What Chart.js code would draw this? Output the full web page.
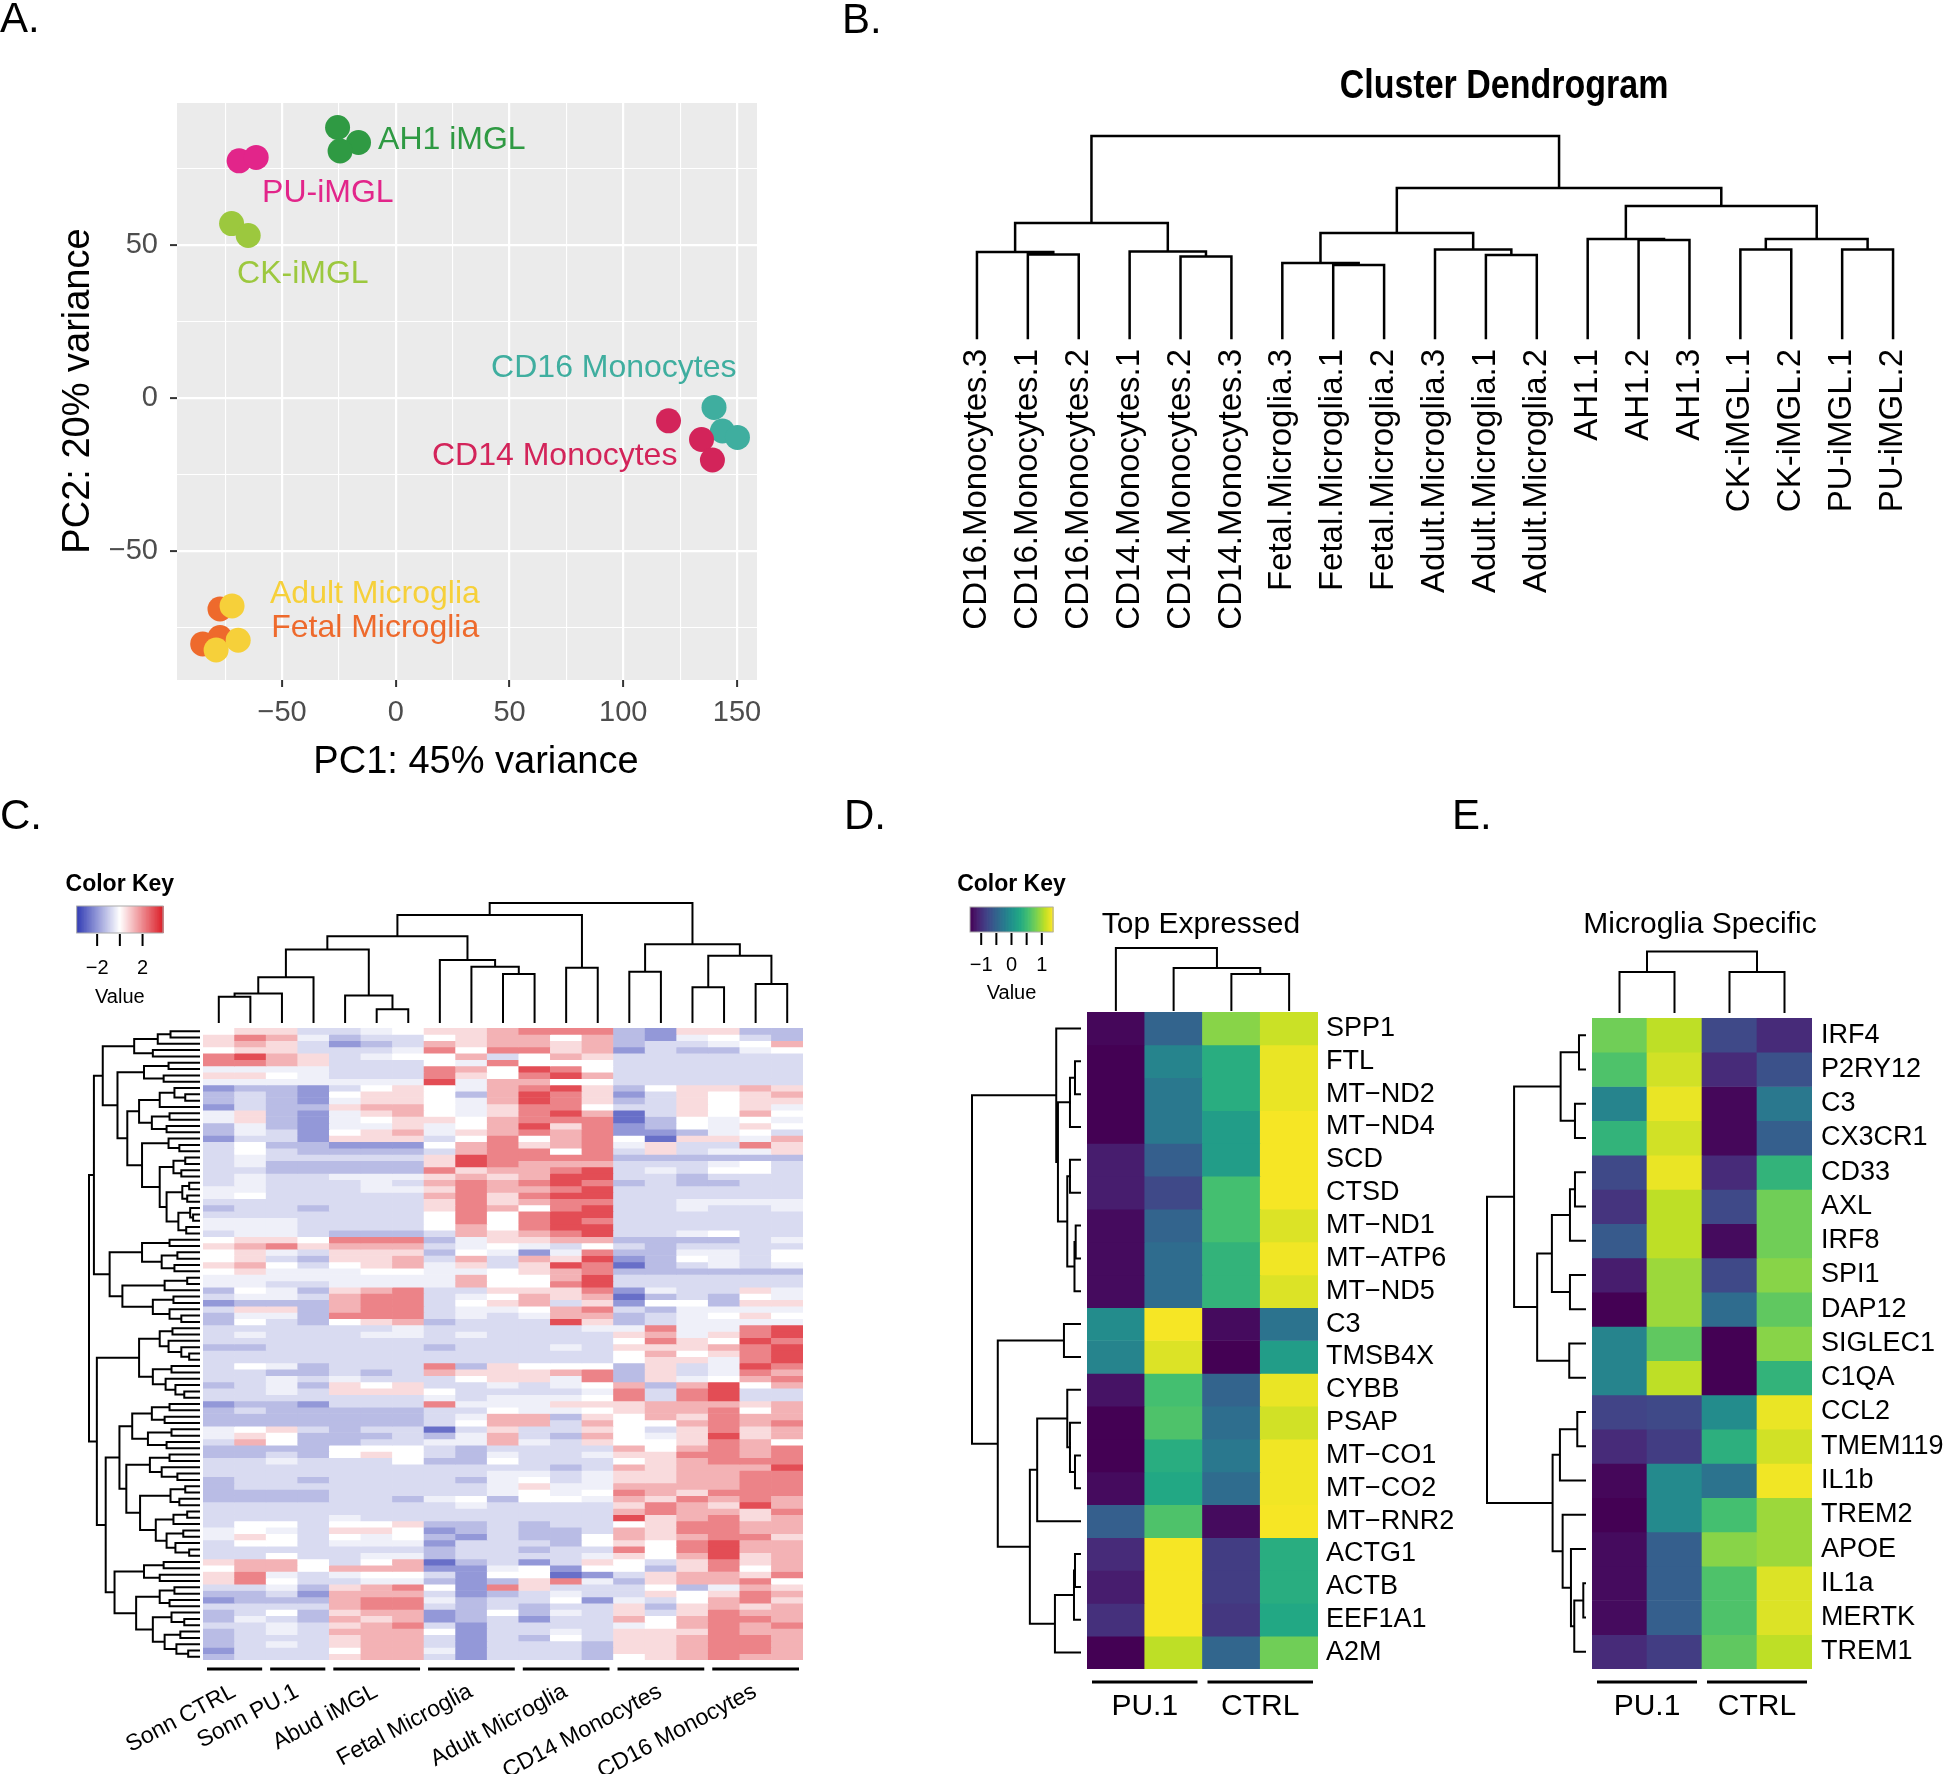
<!DOCTYPE html>
<html>
<head>
<meta charset="utf-8">
<script src="https://cdn.jsdelivr.net/npm/chart.js@4.4.1/dist/chart.umd.min.js"></script>
<style>
  body { margin: 0; width: 1946px; height: 1774px; background: #fff; position: relative; overflow: hidden; }
  canvas { position: absolute; }
</style>
</head>
<body>
<script>
const FONT = '"Liberation Sans", Arial, Helvetica, sans-serif';

// ---------- A: PCA ----------
const PCA_GROUPS = ['CD14 Monocytes', 'CD16 Monocytes', 'AH1 iMGL', 'PU-iMGL', 'CK-iMGL', 'Adult Microglia', 'Fetal Microglia'];
const PCA_COLORS = ['#D3245A', '#3FAE9F', '#2F9A43', '#E2258A', '#9CC83E', '#F6D03A', '#EE6A2C'];
const PC1 = [[119.9, 134.4, 139.2], [139.9, 143.6, 150.2], [-25.6, -16.4, -24.5], [-68.9, -61.4], [-72.2, -64.9], [-72.0, -69.3, -79.0], [-77.3, -84.9, -77.3]];
const PC2 = [[-7.5, -13.6, -20.3], [-3.1, -10.8, -12.9], [88.4, 83.5, 80.7], [77.5, 78.6], [57.0, 53.1], [-68.0, -79.2, -82.4], [-69.0, -80.4, -78.3]];
const PCA_LABEL_X = [15.9, 41.9, -7.8, -58.8, -69.8, -55.3, -54.8];
const PCA_LABEL_Y = [-19.0, 9.8, 84.3, 67.0, 40.5, -64.1, -75.2];
const PC1_MAJOR = [-50, 0, 50, 100, 150];
const PC1_MINOR = [-75, -25, 25, 75, 125];
const PC2_MAJOR = [-50, 0, 50];
const PC2_MINOR = [-75, -25, 25, 75];

// ---------- B: sample dendrogram ----------
const B_LEAVES = ['CD16.Monocytes.3', 'CD16.Monocytes.1', 'CD16.Monocytes.2', 'CD14.Monocytes.1', 'CD14.Monocytes.2', 'CD14.Monocytes.3',
  'Fetal.Microglia.3', 'Fetal.Microglia.1', 'Fetal.Microglia.2', 'Adult.Microglia.3', 'Adult.Microglia.1', 'Adult.Microglia.2',
  'AH1.1', 'AH1.2', 'AH1.3', 'CK-iMGL.1', 'CK-iMGL.2', 'PU-iMGL.1', 'PU-iMGL.2'];
// [height, left, right]; numbers are leaf indices
const B_TREE = [202,
  [115, [86, 0, [83.6, 1, 2]], [86.5, 3, [81.5, 4, 5]]],
  [150,
    [105, [75, 6, [73, 7, 8]], [88.5, 9, [83, 10, 11]]],
    [132, [99, 12, [98, 13, 14]], [99, [88.5, 15, 16], [88.5, 17, 18]]]]];

// ---------- C: big heatmap ----------
const C_GROUPS = ['Sonn CTRL', 'Sonn PU.1', 'Abud iMGL', 'Fetal Microglia', 'Adult Microglia', 'CD14 Monocytes', 'CD16 Monocytes'];
const C_GROUP_SIZE = [2, 2, 3, 3, 3, 3, 3];
const C_LEVELS = [-2.8, -2.0, -1.3, -0.7, -0.3, 0, 0.6, 1.3, 2.1, 3.0];
// one string per gene row, one digit per sample column (index into C_LEVELS)
const C_ROWS = [
  '5663345667888216622', '6874233567757214532', '6763123767767233457', '5663334858867132245', '8976345573576333333',
  '8876333548555333333', '4444333875985333333', '6654333865897333333', '4444444947755333333', '1221356547896256676',
  '2321566527986136567', '2321466547986236566', '1322677546885336564', '4621467546897036575', '4621456657888025454',
  '2421446457968125465', '2431567467878112453', '1331666358578506647', '3522111578678463386', '3532222378858363446',
  '3433333698888222222', '3422222698777333453', '3322222867789343553', '3433444676799332333', '3433343787898232233',
  '4433344687789333333', '4533333786899333333', '3333333686788334444', '2332333687589334334', '3333333585899333333',
  '4443333585898333333', '4443333575899333333', '3443222376789334533', '5665888246677222234', '6786777345435323333',
  '5643666254148224435', '5632667373769125435', '6753567463698023434', '5644455445678222222', '4444444475579333333',
  '4433444475589333333', '2542678336668143364', '3443788345767023254', '1222788356736155266', '3662788344578324444',
  '2442888343477234565', '2532567233396234444', '3333334333334484489', '3433344343333674689', '3333333333333586598',
  '2233333233343666789', '3333333333333575689', '3333333333333566489', '3542333826555263498', '3322323766678263487',
  '3343433356648264578', '2342656334345727957', '3343666533334838933', '3333333434445838933', '1221333844466677767',
  '2322222335445677857', '2222222347726576877', '2222222357737557878', '4563233036336536867', '4652223247327546967',
  '3752233447436556875', '2222555323333757878', '2232565324334668878', '3343335225333567888', '3333333333323767779',
  '3333333334434667788', '2332333324534667788', '2333333334644777788', '2222333334545876888', '2222332452554768787',
  '3333333343333687697', '3333333333333787768', '3333433333333967867', '3553556223233568877', '4543665123223768877',
  '4653545213225767886', '3553444133325658977', '3333333233233858977', '3353344233334657967', '6775357023136536867',
  '5775777114515526857', '6843455315501367768', '6853344212684267785', '3342678518633352476', '2231777312343365687',
  '1222788423351435786', '3333788323233626767', '2352677125243636877', '2432767123133757887', '3343678313333457878',
  '2343777513343666877', '2333677313253667887', '2343677313332667887', '1333577413332667887', '2333677313332567877'];
const C_COL_TREE = [364,
  [327,
    [262,
      [222, [137, [87, [77, 0, 1], 2], 3], [81, 4, [39, 5, 6]]],
      [190, 7, [169, 8, [147, 9, 10]]]],
    [166, 11, 12]],
  [238, [154, 13, 14], [203, [106, 15, 16], [116, 17, 18]]]];
const C_ROW_TREE = [112,
  [107,
    [98,
      [66, [42, [29, 0, 1], 2], [47, 3, 4]],
      [83,
        [56, [31, 5, 6], [36, 7, 8]],
        [73,
          [61, [40, [25, 9, [14, 10, 11]], 12], [48, [30, 13, 14], [33, 15, 16]]],
          [58, [31, 17, [20, 18, 19]],
            [40, [26, [14, 20, 21], [18, 22, 23]],
              [33, [17, [10, 24, 25], [12, 26, 27]], [21, [9, 28, [6, 29, 30]], [13, 31, 32]]]]]]]],
    [91,
      [58, [30, 33, 34], [38, [22, 35, 36], [25, 37, 38]]],
      [78, [35, [12, 39, 40], 41], [47, [26, 42, 43], [30, 44, [18, 45, 46]]]]]],
  [104,
    [61, [40, [27, 47, 48], [31, 49, [18, 50, [10, 51, 52]]]], [47, [28, 53, 54], [34, 55, [24, 56, [15, 57, 58]]]]],
    [95,
      [81,
        [68, [48, [30, 59, 60], [35, 61, 62]], [52, [28, 63, 64], [33, 65, 66]]],
        [74, [50, [30, 67, 68], [38, 69, [22, 70, 71]]],
          [60, [29, [14, 72, 73], [20, 74, 75]], [44, [26, [12, 76, 77], 78], [33, [16, 79, 80], [24, 81, [10, 82, 83]]]]]]],
      [86, [56, [36, 84, 85], [40, 86, 87]],
        [64, [40, [25, 88, 89], [30, 90, 91]], [47, [28, 92, [15, 93, 94]], [35, [19, 95, 96], [23, 97, [11, 98, 99]]]]]]]]];

// ---------- D: top expressed ----------
const D_GENES = ['SPP1', 'FTL', 'MT\u2212ND2', 'MT\u2212ND4', 'SCD', 'CTSD', 'MT\u2212ND1', 'MT\u2212ATP6', 'MT\u2212ND5', 'C3',
  'TMSB4X', 'CYBB', 'PSAP', 'MT\u2212CO1', 'MT\u2212CO2', 'MT\u2212RNR2', 'ACTG1', 'ACTB', 'EEF1A1', 'A2M'];
const D_VALUES = [
  [-1.32, -0.49, 0.88, 1.15], [-1.37, -0.14, 0.33, 1.29], [-1.37, -0.27, 0.33, 1.29], [-1.37, -0.27, 0.14, 1.34],
  [-1.15, -0.55, 0.14, 1.34], [-1.15, -0.77, 0.55, 1.34], [-1.29, -0.49, 0.55, 1.23], [-1.29, -0.41, 0.41, 1.32],
  [-1.29, -0.41, 0.41, 1.23], [-0.05, 1.34, -1.29, -0.33], [-0.14, 1.23, -1.37, 0.14], [-1.23, 0.55, -0.49, 1.29],
  [-1.37, 0.60, -0.38, 1.18], [-1.37, 0.33, -0.27, 1.32], [-1.29, 0.27, -0.41, 1.32], [-0.55, 0.60, -1.29, 1.34],
  [-1.04, 1.34, -0.88, 0.33], [-1.15, 1.34, -0.88, 0.33], [-0.99, 1.34, -0.93, 0.27], [-1.37, 1.10, -0.47, 0.77]];
const D_COL_TREE = [62, 0, [42, 1, [36, 2, 3]]];
const D_ROW_TREE = [107.7,
  [23.7, 0, [22, [10, [5, 1, 2], 3], [12.7, [10, 4, 5], [5.5, [4.3, 6, 7], 8]]]],
  [82, [16, 9, 10], [50, [42.7, [12.7, 11, [10, 12, [5, 13, 14]]], 15], [25, [6, [5, 16, 17], 18], 19]]]];

// ---------- E: microglia specific ----------
const E_GENES = ['IRF4', 'P2RY12', 'C3', 'CX3CR1', 'CD33', 'AXL', 'IRF8', 'SPI1', 'DAP12', 'SIGLEC1',
  'C1QA', 'CCL2', 'TMEM119', 'IL1b', 'TREM2', 'APOE', 'IL1a', 'MERTK', 'TREM1'];
const E_VALUES = [
  [0.77, 1.10, -0.77, -1.04], [0.60, 1.18, -1.04, -0.69], [-0.14, 1.29, -1.32, -0.27], [0.41, 1.18, -1.32, -0.55],
  [-0.77, 1.29, -1.04, 0.41], [-0.96, 1.10, -0.77, 0.77], [-0.60, 1.10, -1.29, 0.77], [-1.15, 0.96, -0.77, 0.88],
  [-1.37, 0.96, -0.41, 0.69], [-0.14, 0.69, -1.37, 0.88], [-0.14, 1.10, -1.37, 0.41], [-0.82, -0.77, -0.05, 1.29],
  [-1.04, -0.88, 0.36, 1.18], [-1.32, -0.08, -0.33, 1.32], [-1.37, -0.08, 0.55, 0.96], [-1.29, -0.55, 0.88, 0.96],
  [-1.29, -0.55, 0.60, 1.23], [-1.29, -0.55, 0.60, 1.23], [-1.04, -0.88, 0.69, 1.10]];
const E_COL_TREE = [60.5, [40, 0, 1], [40, 2, 3]];
const E_ROW_TREE = [97.7,
  [70.7, [24.3, [6, 0, 1], [10, 2, 3]], [47.7, [33, [15, [10, 4, 5], 6], [15, 7, 8]], [15.7, 9, 10]]],
  [32.3, [25, [7.7, 11, 12], 13], [22.3, 14, [14, 15, [10.7, [1.7, 16, 17], 18]]]]];
const DE_GROUPS = ['PU.1', 'CTRL'];
const DE_GROUP_SIZE = [2, 2];

// ---------- colour maps ----------
const VIRIDIS = ['#440154', '#482475', '#414487', '#355F8D', '#2A788E', '#21918C', '#22A884', '#44BF70', '#7AD151', '#BDDF26', '#FDE725'];

function hexRgb(h) { return [1, 3, 5].map(i => parseInt(h.slice(i, i + 2), 16)); }
function viridis(v, lim) {
  const t = Math.max(0, Math.min(1, (v + lim) / (2 * lim))) * (VIRIDIS.length - 1);
  const i = Math.min(VIRIDIS.length - 2, Math.floor(t)), f = t - i;
  const a = hexRgb(VIRIDIS[i]), b = hexRgb(VIRIDIS[i + 1]);
  return `rgb(${a.map((c, k) => Math.round(c + (b[k] - c) * f)).join(',')})`;
}
function blueRed(v) {
  const t = Math.max(-1, Math.min(1, v / 3.8));
  const end = t < 0 ? [50, 60, 180] : [220, 30, 40];
  const a = Math.abs(t);
  return `rgb(${end.map(c => Math.round(255 + (c - 255) * a)).join(',')})`;
}
const minus = v => (v < 0 ? '\u2212' + Math.abs(v) : String(v));

// ---------- helpers ----------
Chart.defaults.font.family = FONT;
Chart.defaults.animation = false;
Chart.defaults.responsive = false;
Chart.defaults.devicePixelRatio = 1;
Chart.defaults.events = [];
Chart.defaults.plugins.legend.display = false;
Chart.defaults.plugins.tooltip.enabled = false;

function makeCanvas(box) {
  const c = document.createElement('canvas');
  c.width = box[2];
  c.height = box[3];
  Object.assign(c.style, { left: box[0] + 'px', top: box[1] + 'px', width: box[2] + 'px', height: box[3] + 'px' });
  document.body.appendChild(c);
  return c;
}
// chart area given in page coordinates -> layout padding of the canvas
function padFor(box, area) {
  return { left: area[0] - box[0], top: area[1] - box[1], right: box[0] + box[2] - area[2], bottom: box[1] + box[3] - area[3] };
}
// extra drawing in page coordinates; X / Y give scale pixels in page coordinates too
function overlay(box, draw) {
  return {
    id: 'overlay',
    afterDraw(chart) {
      const ctx = chart.ctx;
      const X = v => chart.scales.x.getPixelForValue(v) + box[0];
      const Y = v => chart.scales.y.getPixelForValue(v) + box[1];
      ctx.save();
      ctx.translate(-box[0], -box[1]);
      draw(ctx, X, Y);
      ctx.restore();
    }
  };
}
function text(ctx, s, x, y, o = {}) {
  ctx.save();
  ctx.font = `${o.weight || 'normal'} ${o.size || 20}px ${FONT}`;
  ctx.fillStyle = o.color || '#000';
  ctx.textAlign = o.align || 'left';
  ctx.textBaseline = o.base || 'alphabetic';
  ctx.translate(x, y);
  if (o.rot) ctx.rotate(o.rot * Math.PI / 180);
  if (o.sx) ctx.scale(o.sx, 1);
  ctx.fillText(s, 0, 0);
  ctx.restore();
}

function dendroData(tree, sideways) {
  const pts = [];
  const walk = n => {
    if (typeof n === 'number') return { p: n + 0.5, h: 0 };
    const a = walk(n[1]), b = walk(n[2]);
    [[a.p, a.h], [a.p, n[0]], [b.p, n[0]], [b.p, b.h]].forEach(([p, h]) => pts.push(sideways ? { x: h, y: p } : { x: p, y: h }));
    pts.push({ x: null, y: null });
    return { p: (a.p + b.p) / 2, h: n[0] };
  };
  walk(tree);
  return pts;
}

function dendroChart(box, area, tree, nLeaves, hMax, sideways, lw, draw) {
  const pos = { type: 'linear', display: false, min: 0, max: nLeaves, reverse: sideways };
  const hgt = { type: 'linear', display: false, min: 0, max: hMax, reverse: sideways };
  return new Chart(makeCanvas(box), {
    type: 'scatter',
    data: {
      datasets: [{
        data: dendroData(tree, sideways), showLine: true, spanGaps: false, pointRadius: 0,
        borderColor: '#000', borderWidth: lw, borderCapStyle: 'square', borderJoinStyle: 'miter', clip: false
      }]
    },
    options: { layout: { padding: padFor(box, area) }, scales: sideways ? { x: hgt, y: pos } : { x: pos, y: hgt } },
    plugins: draw ? [overlay(box, draw)] : []
  });
}

function heatChart(box, area, values, colorOf, draw) {
  return new Chart(makeCanvas(box), {
    type: 'bar',
    data: {
      labels: values[0].map((_, j) => j),
      datasets: values.map(row => ({
        data: row.map(() => 1), backgroundColor: row.map(colorOf),
        borderWidth: 0, barPercentage: 1, categoryPercentage: 1, stack: 'cells'
      }))
    },
    options: {
      layout: { padding: padFor(box, area) },
      scales: {
        x: { display: false, stacked: true },
        y: { display: false, stacked: true, min: 0, max: values.length, reverse: true }
      }
    },
    plugins: draw ? [overlay(box, draw)] : []
  });
}

// underline bars for column groups, returns the bar centres
function groupBars(ctx, X, sizes, y, inset, lw) {
  const w = X(1) - X(0);
  const centres = [];
  let start = 0;
  ctx.strokeStyle = '#000';
  ctx.lineWidth = lw;
  sizes.forEach(sz => {
    const x0 = X(start) - w / 2 + inset;
    const x1 = X(start + sz - 1) + w / 2 - inset;
    ctx.beginPath(); ctx.moveTo(x0, y); ctx.lineTo(x1, y); ctx.stroke();
    centres.push((x0 + x1) / 2);
    start += sz;
  });
  return centres;
}

function colorKey(ctx, k) {
  const n = 140;
  for (let i = 0; i < n; i++) {
    const v = k.min + (k.max - k.min) * (i + 0.5) / n;
    ctx.fillStyle = k.color(v);
    ctx.fillRect(k.x0 + (k.x1 - k.x0) * i / n, k.y0, (k.x1 - k.x0) / n + 0.7, k.y1 - k.y0);
  }
  ctx.strokeStyle = '#aaa';
  ctx.lineWidth = 1;
  ctx.strokeRect(k.x0, k.y0, k.x1 - k.x0, k.y1 - k.y0);
  const px = v => k.x0 + (v - k.min) / (k.max - k.min) * (k.x1 - k.x0);
  ctx.strokeStyle = '#000';
  ctx.lineWidth = 2;
  k.ticks.forEach(v => { ctx.beginPath(); ctx.moveTo(px(v), k.y1 + 1); ctx.lineTo(px(v), k.y1 + 13); ctx.stroke(); });
  k.labels.forEach(v => text(ctx, minus(v), px(v), k.labelY, { size: 20, align: 'center', base: 'middle' }));
  text(ctx, 'Color Key', (k.x0 + k.x1) / 2, k.titleY, { size: 23, weight: 'bold', align: 'center', base: 'middle' });
  text(ctx, 'Value', (k.x0 + k.x1) / 2, k.valueY, { size: 20, align: 'center', base: 'middle' });
}

// ---------- panel A ----------
const AXIS_X_H = 60, AXIS_Y_W = 80;
function gridAxis(major, minor, min, max, axis) {
  const all = major.concat(minor).sort((a, b) => a - b);
  const isMajor = c => !!c.tick && major.includes(c.tick.value);
  return {
    type: 'linear', min, max,
    afterFit: s => { if (axis === 'x') s.height = AXIS_X_H; else s.width = AXIS_Y_W; },
    afterBuildTicks: s => { s.ticks = all.map(v => ({ value: v })); },
    ticks: {
      autoSkip: false, maxRotation: 0, minRotation: 0, padding: axis === 'x' ? 9 : 12, color: '#4D4D4D', font: { size: 29 },
      callback: v => (major.includes(v) ? minus(v) : '')
    },
    grid: {
      color: '#FFFFFF', lineWidth: c => (isMajor(c) ? 2.2 : 1.1), drawTicks: true, tickLength: 7, tickWidth: 2,
      tickColor: c => (isMajor(c) ? '#333333' : 'rgba(0,0,0,0)')
    },
    border: { display: false }
  };
}
const panelBg = {
  id: 'panelBg',
  beforeDraw(chart) {
    const a = chart.chartArea;
    chart.ctx.save();
    chart.ctx.fillStyle = '#EBEBEB';
    chart.ctx.fillRect(a.left, a.top, a.right - a.left, a.bottom - a.top);
    chart.ctx.restore();
  }
};
const boxA = [0, 0, 800, 800];
const padA = padFor(boxA, [177, 103, 757, 680]);
padA.left -= AXIS_Y_W;
padA.bottom -= AXIS_X_H;
new Chart(makeCanvas(boxA), {
  type: 'scatter',
  data: {
    datasets: PCA_GROUPS.map((g, k) => ({
      label: g, data: PC1[k].map((x, i) => ({ x, y: PC2[k][i] })),
      backgroundColor: PCA_COLORS[k], borderWidth: 0, pointRadius: 12.5, clip: false
    }))
  },
  options: {
    layout: { padding: padA },
    scales: { x: gridAxis(PC1_MAJOR, PC1_MINOR, -96.2, 158.8, 'x'), y: gridAxis(PC2_MAJOR, PC2_MINOR, -92.2, 96.4, 'y') }
  },
  plugins: [panelBg, overlay(boxA, (ctx, X, Y) => {
    PCA_GROUPS.forEach((g, k) => text(ctx, g, X(PCA_LABEL_X[k]), Y(PCA_LABEL_Y[k]), { size: 32, color: PCA_COLORS[k], base: 'middle' }));
    text(ctx, 'PC1: 45% variance', 476, 763, { size: 38, align: 'center', base: 'middle' });
    text(ctx, 'PC2: 20% variance', 79, 391, { size: 38, align: 'center', base: 'middle', rot: -90 });
    text(ctx, 'A.', 0, 32, { size: 42 });
  })]
});

// ---------- panel B ----------
dendroChart([830, 0, 1116, 680], [951.5, 98, 1918.5, 338], B_TREE, B_LEAVES.length, 240, false, 2.5, (ctx, X) => {
  B_LEAVES.forEach((s, i) => text(ctx, s, X(i + 0.5), 349, { size: 33, align: 'right', base: 'middle', rot: -90 }));
  text(ctx, 'Cluster Dendrogram', 1504, 87, { size: 40, weight: 'bold', align: 'center', base: 'middle', sx: 0.85 });
  text(ctx, 'B.', 842, 33, { size: 42 });
});

// ---------- panel C ----------
const C_VALUES = C_ROWS.map(s => s.split('').map(ch => C_LEVELS[+ch]));
dendroChart([0, 780, 830, 250], [203, 903, 803, 1022], C_COL_TREE, 19, 364, false, 2, ctx => {
  colorKey(ctx, { x0: 76.7, x1: 163, y0: 906, y1: 933, min: -3.8, max: 3.8, color: blueRed,
    ticks: [-2, 0, 2], labels: [-2, 2], labelY: 968, titleY: 885, valueY: 997 });
  text(ctx, 'C.', 0, 829, { size: 42 });
});
dendroChart([60, 1020, 150, 650], [89, 1028, 199, 1660], C_ROW_TREE, C_ROWS.length, 112, true, 2);
heatChart([60, 1020, 770, 754], [203, 1028, 803, 1660], C_VALUES, blueRed, (ctx, X) => {
  const centres = groupBars(ctx, X, C_GROUP_SIZE, 1669, 4, 3);
  C_GROUPS.forEach((g, i) => text(ctx, g, centres[i] - 6, 1680, { size: 23, align: 'right', base: 'top', rot: -28 }));
});

// ---------- panel D ----------
dendroChart([840, 780, 620, 235], [1087, 948, 1318, 1010], D_COL_TREE, 4, 62, false, 2, ctx => {
  colorKey(ctx, { x0: 970, x1: 1053, y0: 907, y1: 932, min: -1.37, max: 1.37, color: v => viridis(v, 1.37),
    ticks: [-1, -0.5, 0, 0.5, 1], labels: [-1, 0, 1], labelY: 965, titleY: 885, valueY: 993 });
  text(ctx, 'Top Expressed', 1201, 925, { size: 30, align: 'center', base: 'middle' });
  text(ctx, 'D.', 844, 829, { size: 42 });
});
dendroChart([960, 1005, 130, 675], [972, 1012, 1080, 1669], D_ROW_TREE, D_GENES.length, 107.7, true, 2);
heatChart([1075, 1000, 420, 774], [1087, 1012, 1318, 1669], D_VALUES, v => viridis(v, 1.37), (ctx, X, Y) => {
  D_GENES.forEach((g, i) => text(ctx, g, 1326, Y(i + 0.5), { size: 27, base: 'middle' }));
  const centres = groupBars(ctx, X, DE_GROUP_SIZE, 1682, 5, 3);
  DE_GROUPS.forEach((g, i) => text(ctx, g, centres[i], 1707, { size: 30, align: 'center', base: 'middle' }));
});

// ---------- panel E ----------
dendroChart([1445, 780, 501, 235], [1592, 951.5, 1812, 1012], E_COL_TREE, 4, 60.5, false, 2, ctx => {
  text(ctx, 'Microglia Specific', 1700, 925, { size: 30, align: 'center', base: 'middle' });
  text(ctx, 'E.', 1452, 829, { size: 42 });
});
dendroChart([1475, 1010, 115, 665], [1487, 1018, 1585, 1669], E_ROW_TREE, E_GENES.length, 97.7, true, 2);
heatChart([1585, 1010, 361, 764], [1592, 1018, 1812, 1669], E_VALUES, v => viridis(v, 1.37), (ctx, X, Y) => {
  E_GENES.forEach((g, i) => text(ctx, g, 1821, Y(i + 0.5), { size: 27, base: 'middle' }));
  const centres = groupBars(ctx, X, DE_GROUP_SIZE, 1682, 5, 3);
  DE_GROUPS.forEach((g, i) => text(ctx, g, centres[i], 1707, { size: 30, align: 'center', base: 'middle' }));
});
</script>
</body>
</html>
